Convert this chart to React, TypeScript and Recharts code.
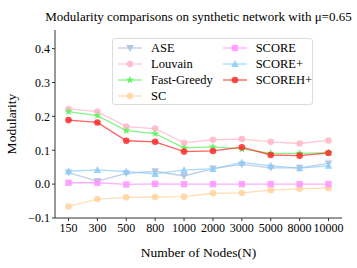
import { LineChart, Line, XAxis, YAxis } from "recharts";

const nodes = ["150", "300", "500", "800", "1000", "2000", "3000", "5000", "8000", "10000"];
const ase = [0.034, 0.009, 0.032, 0.038, 0.024, 0.046, 0.058, 0.048, 0.048, 0.061];
const louvain = [0.222, 0.214, 0.17, 0.164, 0.122, 0.131, 0.133, 0.125, 0.12, 0.129];
const fastGreedy = [0.214, 0.202, 0.158, 0.149, 0.107, 0.11, 0.104, 0.091, 0.091, 0.093];
const sc = [-0.066, -0.044, -0.039, -0.038, -0.037, -0.027, -0.026, -0.018, -0.014, -0.012];
const score = [0.004, 0.004, -0.001, 0.001, 0.0, 0.0, 0.0, 0.0, 0.0, 0.0];
const scorePlus = [0.038, 0.042, 0.037, 0.03, 0.042, 0.045, 0.064, 0.054, 0.047, 0.054];
const scoreHPlus = [0.189, 0.182, 0.128, 0.125, 0.096, 0.098, 0.109, 0.086, 0.084, 0.092];
const yTicks = [-0.1, 0, 0.1, 0.2, 0.3, 0.4];

const data = nodes.map((n, i) => ({
  n,
  ase: ase[i],
  louvain: louvain[i],
  fastGreedy: fastGreedy[i],
  sc: sc[i],
  score: score[i],
  scorePlus: scorePlus[i],
  scoreHPlus: scoreHPlus[i],
}));

type Shape = "circle" | "square" | "up" | "down" | "star";

const SERIES: { key: string; name: string; color: string; shape: Shape }[] = [
  { key: "ase", name: "ASE", color: "#a9bfdc", shape: "down" },
  { key: "louvain", name: "Louvain", color: "#ffb6c6", shape: "circle" },
  { key: "fastGreedy", name: "Fast-Greedy", color: "#5cf05c", shape: "star" },
  { key: "sc", name: "SC", color: "#ffd39c", shape: "circle" },
  { key: "score", name: "SCORE", color: "#ff94ff", shape: "square" },
  { key: "scorePlus", name: "SCORE+", color: "#8ccdf8", shape: "up" },
  { key: "scoreHPlus", name: "SCOREH+", color: "#ff2a2a", shape: "circle" },
];

const FONT = "'Liberation Serif', 'DejaVu Serif', serif";

function drawMarker(shape: Shape, x: number, y: number, color: string, k?: any) {
  if (shape === "circle") return <circle key={k} cx={x} cy={y} r={3.3} fill={color} />;
  if (shape === "square") return <rect key={k} x={x - 3.2} y={y - 3.2} width={6.4} height={6.4} fill={color} />;
  if (shape === "up")
    return <polygon key={k} points={`${x},${y - 4} ${x - 3.8},${y + 3} ${x + 3.8},${y + 3}`} fill={color} />;
  if (shape === "down")
    return <polygon key={k} points={`${x},${y + 4} ${x - 3.8},${y - 3} ${x + 3.8},${y - 3}`} fill={color} />;
  const pts: string[] = [];
  for (let i = 0; i < 10; i++) {
    const r = i % 2 === 0 ? 4.2 : 1.8;
    const a = -Math.PI / 2 + (i * Math.PI) / 5;
    pts.push(`${x + r * Math.cos(a)},${y + r * Math.sin(a)}`);
  }
  return <polygon key={k} points={pts.join(" ")} fill={color} />;
}

function dotFor(shape: Shape, color: string) {
  return (props: any) => {
    const { cx, cy, index } = props;
    if (cx == null || cy == null) return <g key={index} />;
    return <g key={index} opacity={0.85}>{drawMarker(shape, cx, cy, color)}</g>;
  };
}

function LegendBox() {
  const col1 = SERIES.filter((s) => ["ase", "louvain", "fastGreedy", "sc"].includes(s.key));
  const col2 = SERIES.filter((s) => ["score", "scorePlus", "scoreHPlus"].includes(s.key));
  const item = (s: (typeof SERIES)[number]) => (
    <div key={s.key} style={{ display: "flex", alignItems: "center", height: 16 }}>
      <svg width={26} height={10} style={{ marginRight: 8 }}>
        <line x1={1} y1={5} x2={25} y2={5} stroke={s.color} strokeWidth={1.3} opacity={0.75} />
        <g opacity={0.85}>{drawMarker(s.shape, 13, 5, s.color)}</g>
      </svg>
      <span>{s.name}</span>
    </div>
  );
  return (
    <div
      style={{
        position: "absolute",
        left: 112,
        top: 38,
        width: 201,
        height: 67,
        boxSizing: "border-box",
        border: "1px solid #dcdcdc",
        borderRadius: 3,
        background: "rgba(255,255,255,0.85)",
        display: "flex",
        padding: "1px 0 0 4px",
        fontFamily: FONT,
        fontSize: 12.5,
        lineHeight: "16px",
        color: "#000",
      }}
    >
      <div style={{ width: 112 }}>{col1.map(item)}</div>
      <div>{col2.map(item)}</div>
    </div>
  );
}

const tickStyle = { fill: "#000", fontSize: 12, fontFamily: FONT };

export default function App() {
  return (
    <div style={{ position: "absolute", left: 0, top: 0, width: 357, height: 268, background: "#fff" }}>
      <div
        style={{
          position: "absolute",
          left: 0,
          width: 397,
          top: 9,
          textAlign: "center",
          fontFamily: FONT,
          fontSize: 13,
          color: "#000",
          whiteSpace: "nowrap",
        }}
      >
        Modularity comparisons on synthetic network with μ=0.65
      </div>
      <LineChart
        width={357}
        height={268}
        data={data}
        margin={{ top: 30, right: 15, left: 0, bottom: 0 }}
        style={{ position: "absolute", left: 0, top: 0 }}
      >
        <XAxis
          dataKey="n"
          height={50}
          padding={{ left: 13.5, right: 13.5 }}
          tickLine={{ stroke: "#333" }}
          axisLine={{ stroke: "#333" }}
          tickSize={3}
          tick={tickStyle}
          interval={0}
          label={{ value: "Number of Nodes(N)", position: "insideBottom", offset: 11, fill: "#000", fontSize: 13.5, fontFamily: FONT }}
        />
        <XAxis xAxisId="top" dataKey="n" orientation="top" height={0} tick={false} tickLine={false} axisLine={{ stroke: "#333" }} />
        <YAxis
          width={55}
          domain={[-0.1, 0.455]}
          ticks={yTicks}
          tickFormatter={(v: number) => (v < 0 ? "\u2212" + Math.abs(v).toFixed(1) : v.toFixed(1))}
          tickLine={{ stroke: "#333" }}
          axisLine={{ stroke: "#333" }}
          tickSize={3}
          tick={tickStyle}
          allowDataOverflow
          label={{ value: "Modularity", angle: -90, position: "insideLeft", offset: 11, fill: "#000", fontSize: 13.5, fontFamily: FONT, style: { textAnchor: "middle" } }}
        />
        <YAxis yAxisId="right" orientation="right" width={0} domain={[-0.1, 0.455]} tick={false} tickLine={false} axisLine={{ stroke: "#333" }} />
        {SERIES.map((s) => (
          <Line
            key={s.key}
            dataKey={s.key}
            name={s.name}
            type="linear"
            stroke={s.color}
            strokeOpacity={0.75}
            strokeWidth={1.3}
            dot={dotFor(s.shape, s.color)}
            activeDot={false}
            isAnimationActive={false}
          />
        ))}
      </LineChart>
      <LegendBox />
    </div>
  );
}
